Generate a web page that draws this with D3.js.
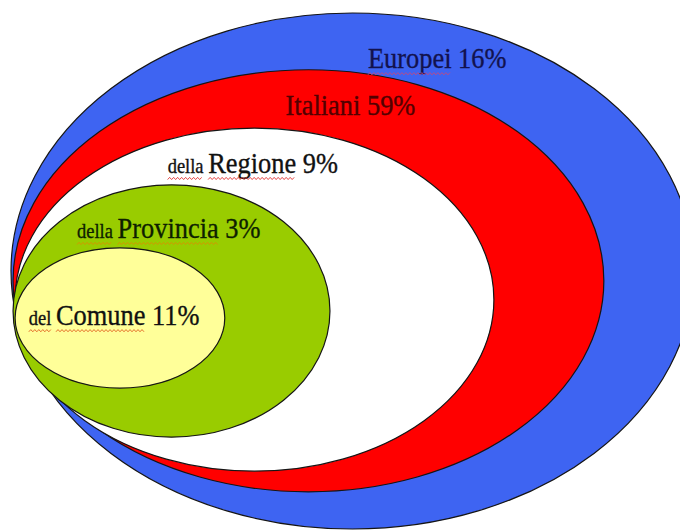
<!DOCTYPE html>
<html><head><meta charset="utf-8">
<script src="https://cdn.jsdelivr.net/npm/d3@7"></script>
<style>html,body{margin:0;padding:0;background:#fff;} svg{display:block;}</style>
</head><body>
<svg id="chart" width="680" height="530"></svg>
<script>
// ---- data ----
const categories = ["Europei", "Italiani", "Regione", "Provincia", "Comune"];
const prefixes = ["", "", "della", "della", "del"];
const shares = [16, 59, 9, 3, 11];
// ellipse extents in a 0-100 diagram space
const leftExtent = [0, 0.3, 0.6, 0.3, 0.6];
const rightExtent = [100, 86.8, 70.7, 46.7, 31.3];
const topExtent = [0, 11.0, 22.3, 33.3, 45.5];
const bottomExtent = [100, 92.8, 88.8, 82.2, 72.7];

// ---- styles / layout ----
const fills = ["#3e64f2", "#ff0000", "#ffffff", "#99cc00", "#ffff99"];
const textColors = ["#12124e", "#520000", "#111111", "#0e1f00", "#111111"];
const squiggleColors = ["#c8487a", "#e03030", "#e03030", "#d89000", "#e06020"];
const nameMarked = [true, false, true, true, true];
const labelX = [62.4, 49.7, 35.4, 23.1, 15.1];
const labelY = [10.7, 19.8, 31.0, 43.6, 60.5];
const squeeze = 0.88;

const svg = d3.select("#chart");
const x = d3.scaleLinear().domain([0, 100]).range([11, 694]);
const y = d3.scaleLinear().domain([0, 100]).range([13, 529]);

const levels = categories.map((c, i) => ({
  name: c, prefix: prefixes[i], share: shares[i],
  l: leftExtent[i], r: rightExtent[i], t: topExtent[i], b: bottomExtent[i], i
}));

svg.selectAll("ellipse.level").data(levels).join("ellipse")
  .attr("class", "level")
  .attr("cx", d => (x(d.l) + x(d.r)) / 2)
  .attr("cy", d => (y(d.t) + y(d.b)) / 2)
  .attr("rx", d => (x(d.r) - x(d.l)) / 2)
  .attr("ry", d => (y(d.b) - y(d.t)) / 2)
  .attr("fill", d => fills[d.i])
  .attr("stroke", "#151515")
  .attr("stroke-width", 1.2);

const fontFam = "'Liberation Serif','Times New Roman',Times,serif";
const labels = svg.selectAll("text.lbl").data(levels).join("text")
  .attr("class", "lbl")
  .attr("x", 0).attr("y", 0)
  .attr("transform", d => `translate(${x(labelX[d.i])},${y(labelY[d.i])}) scale(${squeeze},1)`)
  .attr("text-anchor", "middle")
  .attr("font-family", fontFam)
  .attr("fill", d => textColors[d.i])
  .attr("stroke", d => textColors[d.i])
  .attr("stroke-width", 0.35);

labels.each(function(d) {
  const t = d3.select(this);
  if (d.prefix) t.append("tspan").attr("class", "pre").attr("font-size", 21).text(d.prefix + " ");
  t.append("tspan").attr("class", "nm").attr("font-size", 30).text(d.name);
  t.append("tspan").attr("class", "pc").attr("font-size", 30).text(" " + d.share + "%");
});

function squiggle(x0, x1, yy) {
  const pts = [];
  let k = 0;
  for (let px = x0; px <= x1; px += 2, k++) pts.push([px, yy + (k % 2 ? -1.1 : 1.1)]);
  return d3.line()(pts);
}

labels.each(function(d) {
  const t = d3.select(this);
  const cx = x(labelX[d.i]);
  const base = y(labelY[d.i]);
  const marks = [];
  const pre = t.select("tspan.pre").node();
  if (pre) {
    const s = pre.getStartPositionOfChar(0).x;
    marks.push([s, s + pre.getSubStringLength(0, d.prefix.length)]);
  }
  if (nameMarked[d.i]) {
    const nm = t.select("tspan.nm").node();
    const s = nm.getStartPositionOfChar(0).x;
    marks.push([s, s + nm.getComputedTextLength()]);
  }
  marks.forEach(m => {
    svg.append("path")
      .attr("d", squiggle(cx + m[0] * squeeze, cx + m[1] * squeeze, base + 5.5))
      .attr("fill", "none")
      .attr("stroke", squiggleColors[d.i])
      .attr("stroke-width", 0.9);
  });
});
</script>
</body></html>
